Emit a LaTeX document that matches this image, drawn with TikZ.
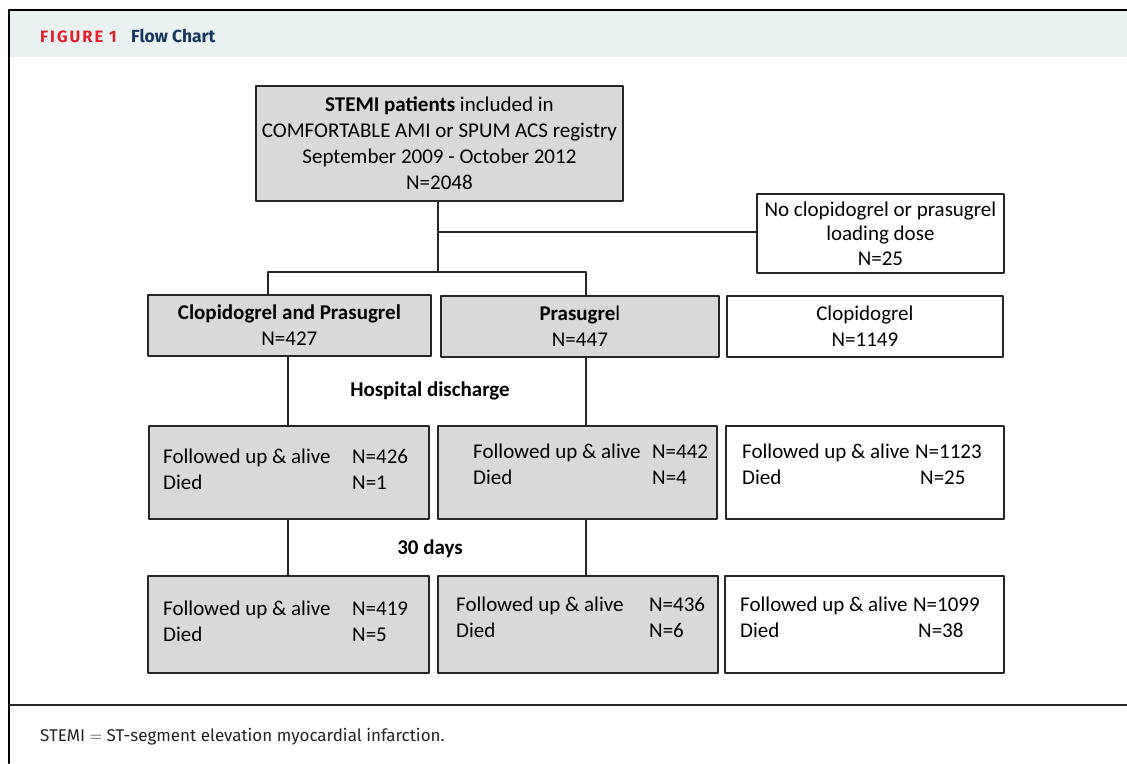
\documentclass[tikz,border=0pt]{standalone}
\usepackage{fontspec}
\setmainfont{Carlito}
\newfontfamily\headfont{Fira Sans}
\newfontfamily\figfont[LetterSpace=12]{Fira Sans}
\usepackage{xcolor}
\usetikzlibrary{positioning,calc}
\definecolor{boxgray}{HTML}{D9D9D9}
\definecolor{boxline}{HTML}{262626}
\definecolor{headband}{HTML}{E9F1F1}
\definecolor{figred}{HTML}{E31E2D}
\definecolor{navy}{HTML}{17365D}
\definecolor{ink}{HTML}{222222}
\tikzset{
    every picture/.style={line cap=round,line join=round},
    graybox/.style={draw=boxline,fill=boxgray,line width=1.8pt,anchor=north west,
      inner sep=0pt,align=center,font=\fontsize{21}{26}\selectfont},
    whitebox/.style={graybox,fill=white},
    pairtext/.style={anchor=base west,inner sep=0pt,font=\fontsize{21}{26}\selectfont},
    stagetext/.style={inner sep=0pt,font=\fontsize{21}{26}\selectfont\bfseries},
    linkline/.style={draw=boxline,line width=1.8pt}
}
\begin{document}
\begin{tikzpicture}[x=1pt,y=-1pt]
  \useasboundingbox (0,0) rectangle (1127,763);
  % frame and header band
  \fill[headband] (10,11) rectangle (1127,57);
  \draw[black,line width=2.5pt] (9,763) -- (9,10) -- (1127,10);
  \draw[boxline,line width=1.4pt] (9,705) -- (1127,705);
  \node[anchor=base west,inner sep=0pt,text=figred,font=\figfont\fontsize{16.5}{18}\selectfont\bfseries] (fignum) at (40,42) {FIGURE 1};
  \node[anchor=base west,inner sep=0pt,text=navy,font=\headfont\fontsize{17.5}{20}\selectfont\bfseries] (figtitle) at (131,42) {Flow Chart};
  % enrolment
  \node[graybox,minimum width=367,minimum height=115] (stemi) at (255,85)
    {\textbf{STEMI patients} included in\\COMFORTABLE AMI or SPUM ACS registry\\September 2009 - October 2012\\N=2048};
  \node[whitebox,minimum width=247,minimum height=79,font=\fontsize{21}{24.5}\selectfont] (noload) at (756,193)
    {No clopidogrel or prasugrel\\loading dose\\N=25};
  % treatment groups
  \node[graybox,minimum width=283,minimum height=61] (cpa) at (147,294) {\textbf{Clopidogrel and Prasugrel}\\N=427};
  \node[graybox,minimum width=278,minimum height=61] (pra) at (440,295) {\textbf{Prasugre}l\\N=447};
  \node[whitebox,minimum width=276,minimum height=61] (cla) at (726,295) {Clopidogrel\\N=1149};
  % hospital discharge
  \node[stagetext] (hosp) at (430,391) {Hospital discharge};
  \node[graybox,minimum width=280,minimum height=93] (cpd) at (148,425) {};
  \node[graybox,minimum width=279,minimum height=93] (prd) at (437,425) {};
  \node[whitebox,minimum width=278,minimum height=93] (cld) at (725,425) {};
  \node[pairtext] (cpdt) at (163,463) {\begin{tabular}[t]{@{}p{189pt}@{}l@{}}Followed up \& alive&N=426\\Died&N=1\end{tabular}};
  \node[pairtext] (prdt) at (473,458) {\begin{tabular}[t]{@{}p{179pt}@{}l@{}}Followed up \& alive&N=442\\Died&N=4\end{tabular}};
  \node[pairtext] (cldt) at (742,458) {\begin{tabular}[t]{@{}p{173pt}@{}l@{}}Followed up \& alive&N=1123\\Died&\hspace{5pt}N=25\end{tabular}};
  % 30 days
  \node[stagetext] (days) at (430,549) {30 days};
  \node[graybox,minimum width=281,minimum height=97] (cpm) at (147,575) {};
  \node[graybox,minimum width=280,minimum height=97] (prm) at (437,575) {};
  \node[whitebox,minimum width=279,minimum height=97] (clm) at (724,575) {};
  \node[pairtext] (cpmt) at (163,615) {\begin{tabular}[t]{@{}p{189pt}@{}l@{}}Followed up \& alive&N=419\\Died&N=5\end{tabular}};
  \node[pairtext] (prmt) at (456,611) {\begin{tabular}[t]{@{}p{193pt}@{}l@{}}Followed up \& alive&N=436\\Died&N=6\end{tabular}};
  \node[pairtext] (clmt) at (740,611) {\begin{tabular}[t]{@{}p{173pt}@{}l@{}}Followed up \& alive&N=1099\\Died&\hspace{5pt}N=38\end{tabular}};
  % connectors
  \coordinate (split) at (438,232);
  \coordinate (fork) at (438,272);
  \coordinate (forkl) at (268,272);
  \coordinate (forkr) at (586,272);
  \coordinate (leftrun) at (288,0);
  \draw[linkline] (stemi.south -| split) -- (fork);
  \draw[linkline] (split) -- (split -| noload.west);
  \draw[linkline] (forkl |- cpa.north) -- (forkl) -- (forkr) -- (forkr |- pra.north);
  \draw[linkline] (leftrun |- cpa.south) -- (leftrun |- cpd.north);
  \draw[linkline] (forkr |- pra.south) -- (forkr |- prd.north);
  \draw[linkline] (leftrun |- cpd.south) -- (leftrun |- cpm.north);
  \draw[linkline] (forkr |- prd.south) -- (forkr |- prm.north);
  % footnote
  \node[anchor=base west,inner sep=0pt,text=ink,font=\headfont\fontsize{17}{20}\selectfont] (note) at (40,741)
    {STEMI $=$ ST-segment elevation myocardial infarction.};
\end{tikzpicture}
\end{document}
